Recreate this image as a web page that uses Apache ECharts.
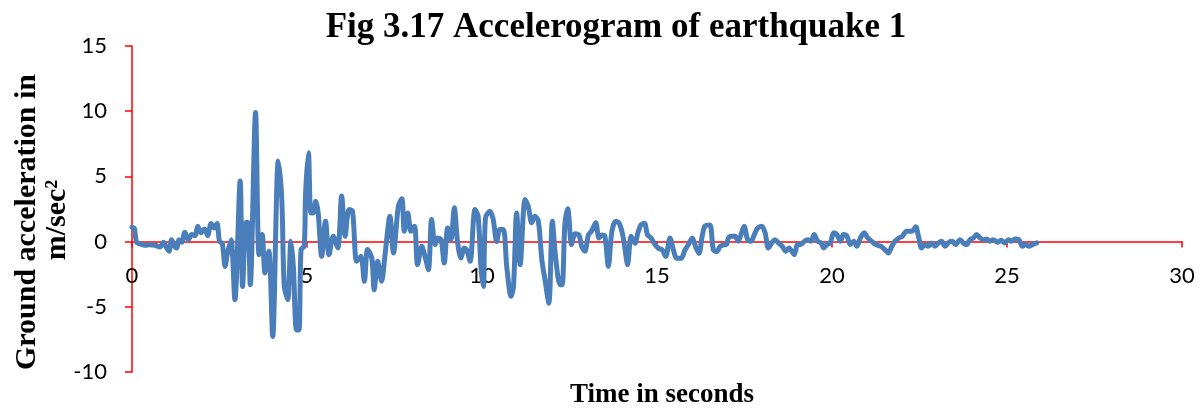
<!DOCTYPE html>
<html>
<head>
<meta charset="utf-8">
<script src="https://cdn.jsdelivr.net/npm/echarts@6/dist/echarts.min.js"></script>
<style>
  html, body { margin: 0; padding: 0; background: #ffffff; overflow: hidden; }
  #chart { width: 1200px; height: 408px; }
</style>
</head>
<body>
<div id="chart"></div>
<script>
// Ground acceleration record: time (s) and acceleration (m/s^2)
const timeSec = [
  0.00, 0.07, 0.13, 0.25, 0.37, 0.50, 0.66, 0.80, 0.90, 0.99,
  1.06, 1.13, 1.21, 1.28, 1.34, 1.42, 1.51, 1.61, 1.71, 1.80,
  1.88, 1.97, 2.07, 2.16, 2.26, 2.35, 2.43, 2.50, 2.58, 2.66,
  2.73, 2.83, 2.94, 3.09, 3.16, 3.26, 3.32, 3.38, 3.53, 3.63,
  3.72, 3.80, 3.91, 4.02, 4.18, 4.28, 4.35, 4.45, 4.54, 4.61,
  4.70, 4.77, 4.83, 4.92, 4.96, 5.04, 5.11, 5.18, 5.25, 5.32,
  5.42, 5.53, 5.63, 5.75, 5.88, 5.99, 6.09, 6.20, 6.30, 6.42,
  6.54, 6.64, 6.73, 6.85, 6.92, 7.02, 7.13, 7.23, 7.37, 7.47,
  7.61, 7.71, 7.78, 7.88, 7.97, 8.07, 8.16, 8.28, 8.37, 8.47,
  8.56, 8.66, 8.73, 8.83, 8.92, 9.02, 9.11, 9.21, 9.30, 9.40,
  9.49, 9.56, 9.66, 9.80, 9.89, 9.97, 10.04, 10.10, 10.23, 10.32,
  10.42, 10.51, 10.61, 10.71, 10.83, 10.90, 10.99, 11.09, 11.23, 11.32,
  11.42, 11.51, 11.61, 11.71, 11.80, 11.91, 12.01, 12.10, 12.23, 12.29,
  12.37, 12.45, 12.56, 12.66, 12.77, 12.85, 12.94, 13.04, 13.13, 13.25,
  13.34, 13.42, 13.51, 13.61, 13.71, 13.82, 13.91, 14.01, 14.09, 14.16,
  14.26, 14.37, 14.45, 14.54, 14.64, 14.73, 14.83, 14.92, 15.04, 15.15,
  15.25, 15.37, 15.47, 15.56, 15.69, 15.80, 15.89, 16.01, 16.10, 16.20,
  16.29, 16.37, 16.51, 16.61, 16.71, 16.80, 16.90, 16.99, 17.04, 17.13,
  17.23, 17.32, 17.40, 17.49, 17.59, 17.69, 17.78, 17.88, 17.99, 18.09,
  18.18, 18.28, 18.37, 18.47, 18.58, 18.68, 18.77, 18.85, 18.92, 19.02,
  19.11, 19.21, 19.31, 19.40, 19.49, 19.59, 19.69, 19.76, 19.86, 19.95,
  20.05, 20.14, 20.24, 20.33, 20.43, 20.52, 20.62, 20.71, 20.81, 20.92,
  21.02, 21.13, 21.23, 21.32, 21.42, 21.51, 21.61, 21.71, 21.80, 21.91,
  22.01, 22.13, 22.23, 22.29, 22.39, 22.47, 22.56, 22.66, 22.75, 22.85,
  22.94, 23.04, 23.13, 23.23, 23.34, 23.44, 23.53, 23.66, 23.75, 23.85,
  23.94, 24.04, 24.13, 24.23, 24.32, 24.42, 24.51, 24.61, 24.73, 24.83,
  24.94, 25.04, 25.13, 25.23, 25.34, 25.44, 25.53, 25.63, 25.72, 25.85
];
const accel = [
  1.10, 1.00, -0.05, -0.20, -0.28, -0.25, -0.28, -0.41, -0.05, -0.49,
  -0.74, 0.15, -0.33, -0.49, 0.15, -0.05, 0.72, 0.15, 0.54, 0.46,
  1.18, 0.67, 0.97, 0.46, 1.38, 1.05, 1.38, 0.03, -0.15, -1.90,
  -0.87, 0.15, -4.46, 4.64, -3.44, 1.49, 1.44, -3.30, 9.90, -1.00,
  0.54, -2.40, -0.74, -7.28, 6.18, 3.20, -3.40, -4.46, 0.03, -1.90,
  -6.77, -6.77, -0.60, -0.36, 3.74, 6.82, 2.20, 2.20, 3.10, 2.20,
  -1.13, 1.56, -1.00, 0.41, -0.49, 3.49, 0.41, 2.46, 2.33, -1.51,
  -1.13, -3.05, -0.60, -1.26, -3.70, -1.51, -3.05, -1.00, 1.95, -0.87,
  2.72, 3.28, 0.80, 2.20, 0.80, 1.18, -1.77, -0.36, -1.13, -2.15,
  1.69, -0.23, 0.28, 0.15, -1.64, 1.05, 0.15, 2.59, 0.00, -1.26,
  -0.49, -0.62, -1.51, 2.46, 1.95, -2.00, -3.44, 1.82, 2.33, 1.69,
  0.00, 0.92, 0.92, -2.00, -4.20, -3.44, 2.20, -1.77, 3.23, 2.72,
  1.44, 1.95, 1.56, -1.40, -2.92, -4.72, 1.56, -1.13, -3.30, -3.30,
  1.44, 2.51, -0.23, 0.60, 0.50, -0.38, -0.74, 0.51, 0.80, 1.44,
  0.28, 0.51, 0.41, -1.90, 0.77, 1.56, 1.44, 0.64, -0.64, -1.77,
  0.41, -0.13, 0.64, 1.28, 1.41, 0.51, 0.28, -0.13, -0.51, -0.64,
  -1.15, 0.28, -0.64, -1.28, -1.28, -0.64, -0.26, 0.28, -0.38, -0.90,
  0.41, 1.20, 1.28, -0.64, -0.77, -0.38, -0.26, -0.20, 0.28, 0.41,
  0.41, 0.03, 0.54, 1.18, 0.15, 0.03, 0.54, 1.05, 1.18, 0.67,
  -0.49, -0.10, 0.15, -0.10, -0.36, -0.74, -0.49, -0.74, -1.00, -0.23,
  -0.23, 0.03, 0.15, 0.03, 0.54, 0.03, -0.10, -0.49, -0.23, -0.10,
  0.67, 0.54, 0.03, 0.54, 0.41, -0.23, 0.03, -0.36, 0.28, 0.67,
  0.28, 0.03, -0.20, -0.30, -0.40, -0.62, -0.87, -0.36, 0.03, 0.28,
  0.41, 0.80, 0.80, 0.80, 1.13, 0.41, -0.49, -0.23, -0.36, -0.10,
  -0.36, -0.10, 0.03, -0.36, -0.05, 0.03, -0.23, 0.15, -0.10, -0.23,
  0.15, 0.28, 0.54, 0.28, 0.15, 0.20, 0.03, 0.15, -0.05, 0.10,
  -0.10, 0.15, 0.03, 0.20, 0.15, -0.36, -0.23, -0.36, -0.23, -0.10
];

// Axis scales: [min, max, step]
const timeAxis = [0, 30, 5];
const accelAxis = [-10, 15, 5];

const chartTitle = 'Fig 3.17 Accelerogram of earthquake 1';
const xTitle = 'Time in seconds';
const yTitleLines = ['Ground acceleration in', 'm/sec\u00B2'];

const axisRed = '#ff0000';
const serifFont = '"Liberation Serif", "Times New Roman", serif';
const labelFont = 'Lato, "Open Sans", sans-serif';

const chart = echarts.init(document.getElementById('chart'), null, { renderer: 'canvas' });

const option = {
  animation: false,
  backgroundColor: '#ffffff',
  title: [
    {
      text: chartTitle,
      left: 611,
      top: 5,
      textAlign: 'center',
      textStyle: { fontFamily: serifFont, fontWeight: 'bold', fontSize: 35, color: '#000000' }
    },
    {
      text: xTitle,
      left: 657,
      top: 377,
      textAlign: 'center',
      textStyle: { fontFamily: serifFont, fontWeight: 'bold', fontSize: 27, color: '#000000' }
    }
  ],
  grid: { left: 132, right: 18, top: 46, bottom: 36, containLabel: false, outerBoundsMode: 'none' },
  xAxis: {
    type: 'value',
    min: timeAxis[0],
    max: timeAxis[1],
    interval: timeAxis[2],
    axisLine: { show: true, onZero: false, lineStyle: { color: axisRed, width: 1.5 } },
    axisTick: { show: true, inside: false, length: 6, lineStyle: { color: axisRed, width: 1.5 } },
    axisLabel: { margin: 23, color: '#000000', fontFamily: labelFont, fontSize: 22 },
    splitLine: { show: false }
  },
  yAxis: {
    type: 'value',
    min: accelAxis[0],
    max: accelAxis[1],
    interval: accelAxis[2],
    axisLine: { show: true, lineStyle: { color: axisRed, width: 1.5 } },
    axisTick: { show: true, inside: false, length: 7, lineStyle: { color: axisRed, width: 1.5 } },
    axisLabel: { margin: 25, color: '#000000', fontFamily: labelFont, fontSize: 22 },
    splitLine: { show: false }
  },
  graphic: [
    {
      type: 'text',
      x: 27,
      y: 222,
      rotation: Math.PI / 2,
      style: {
        text: yTitleLines[0],
        fontFamily: serifFont, fontWeight: 'bold', fontSize: 30,
        fill: '#000000', align: 'center', verticalAlign: 'middle'
      }
    },
    {
      type: 'text',
      x: 57,
      y: 220,
      rotation: Math.PI / 2,
      style: {
        text: yTitleLines[1],
        fontFamily: serifFont, fontWeight: 'bold', fontSize: 30,
        fill: '#000000', align: 'center', verticalAlign: 'middle'
      }
    }
  ],
  series: [
    {
      type: 'line',
      data: timeSec.map((t, i) => [t, accel[i]]),
      showSymbol: false,
      smooth: 0.3,
      lineStyle: { color: '#4a7ebb', width: 5, cap: 'round', join: 'round' },
      z: 3
    }
  ]
};

chart.setOption(option);

// Lift the time axis so it crosses the acceleration axis at zero
const yZero = chart.convertToPixel({ yAxisIndex: 0 }, 0);
const yBottom = chart.convertToPixel({ yAxisIndex: 0 }, accelAxis[0]);
chart.setOption({ xAxis: { offset: yZero - yBottom } });
</script>
</body>
</html>
